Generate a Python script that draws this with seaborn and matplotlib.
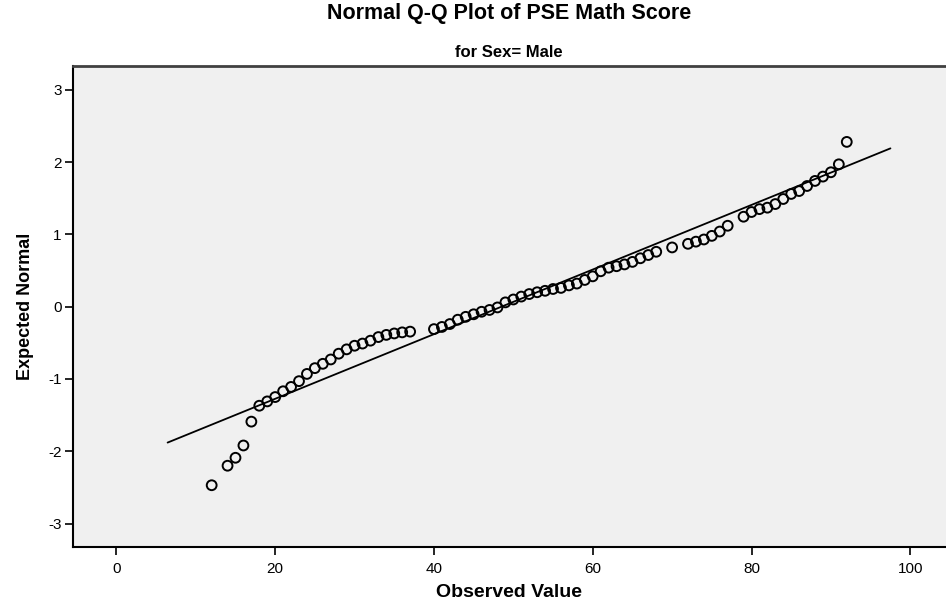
import numpy as np
import pandas as pd
import matplotlib
matplotlib.use("Agg")
import matplotlib.pyplot as plt
import seaborn as sns

# --- data ---
observed = [12, 14, 15, 16, 17, 18, 19, 20, 21, 22, 23, 24, 25, 26, 27, 28, 29, 30,
            31, 32, 33, 34, 35, 36, 37, 40, 41, 42, 43, 44, 45, 46, 47, 48, 49, 50,
            51, 52, 53, 54, 55, 56, 57, 58, 59, 60, 61, 62, 63, 64, 65, 66, 67, 68,
            70, 72, 73, 74, 75, 76, 77, 79, 80, 81, 82, 83, 84, 85, 86, 87, 88, 89,
            90, 91, 92]
expected = [-2.47, -2.20, -2.09, -1.92, -1.59, -1.37, -1.31, -1.25, -1.17, -1.11,
            -1.03, -0.93, -0.85, -0.79, -0.73, -0.65, -0.59, -0.54, -0.51, -0.47,
            -0.42, -0.39, -0.37, -0.355, -0.345, -0.31, -0.28, -0.24, -0.18, -0.14,
            -0.105, -0.07, -0.045, -0.01, 0.06, 0.10, 0.14, 0.175, 0.20, 0.22,
            0.245, 0.26, 0.295, 0.32, 0.37, 0.42, 0.49, 0.54, 0.56, 0.585,
            0.62, 0.67, 0.715, 0.76, 0.82, 0.87, 0.90, 0.93, 0.98, 1.04,
            1.12, 1.245, 1.31, 1.35, 1.37, 1.42, 1.49, 1.56, 1.60, 1.67,
            1.74, 1.80, 1.86, 1.97, 2.28]

# reference line: z = (x - mean) / sd
line_mean = 48.5
line_sd = 22.37
line_x = [6.45, 97.5]

x_ticks = [0, 20, 40, 60, 80, 100]
y_ticks = [-3, -2, -1, 0, 1, 2, 3]

df = pd.DataFrame({"Observed": observed, "Expected": expected})
line_df = pd.DataFrame({"x": line_x})
line_df["z"] = (line_df["x"] - line_mean) / line_sd

sns.set_style("ticks", {"axes.facecolor": "#F0F0F0"})
plt.rcParams["font.family"] = ["Liberation Sans", "DejaVu Sans"]
plt.rcParams["axes.unicode_minus"] = False
plt.rcParams["text.color"] = "black"
plt.rcParams["axes.labelcolor"] = "black"
plt.rcParams["xtick.color"] = "black"
plt.rcParams["ytick.color"] = "black"

fig = plt.figure(figsize=(9.46, 6.05), dpi=100)
ax = fig.add_axes([0.0769, 0.0964, 0.9231, 0.7945])

sns.lineplot(data=line_df, x="x", y="z", color="black", linewidth=1.3, ax=ax)
sns.scatterplot(data=df, x="Observed", y="Expected", marker="o", s=50,
                facecolor="none", edgecolor="black", linewidth=1.4, ax=ax)

ax.set_xlim(-5.5, 104.5)
ax.set_ylim(-3.32, 3.33)
ax.set_xticks(x_ticks)
ax.set_yticks(y_ticks)
ax.tick_params(axis="both", labelsize=11, length=6, width=1.2)
ax.tick_params(axis="x", pad=5)
ax.tick_params(axis="y", pad=2)

for side in ["left", "bottom"]:
    ax.spines[side].set_color("black")
    ax.spines[side].set_linewidth(1.5)
ax.spines["top"].set_visible(True)
ax.spines["top"].set_color("#404040")
ax.spines["top"].set_linewidth(2)
ax.spines["right"].set_visible(False)

ax.set_xlabel("Observed Value", fontsize=14, fontweight="bold", labelpad=6)
ax.set_ylabel("Expected Normal", fontsize=13, fontweight="bold", labelpad=10)

fig.text(0.538, 0.977, "Normal Q-Q Plot of PSE Math Score", ha="center", va="center",
         fontsize=15.5, fontweight="bold")
fig.text(0.538, 0.914, "for Sex= Male", ha="center", va="center",
         fontsize=12, fontweight="bold")

plt.savefig("out.png", dpi=100)
